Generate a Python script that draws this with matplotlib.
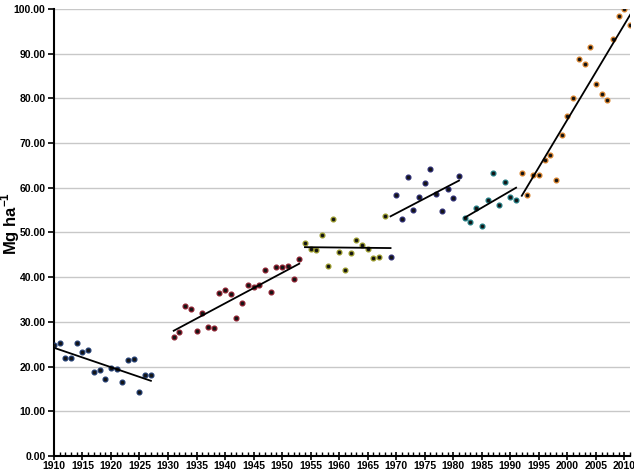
import numpy as np
import matplotlib.pyplot as plt
from matplotlib.ticker import MultipleLocator, FormatStrFormatter

plt.rcParams['font.family'] = 'Liberation Sans'
plt.rcParams['mathtext.fontset'] = 'custom'
plt.rcParams['mathtext.rm'] = 'Liberation Sans:bold'
plt.rcParams['mathtext.bf'] = 'Liberation Sans:bold'

# yields per period (Mg/ha)
years_1 = np.arange(1910, 1928)
vals_1 = [24.8, 25.3, 22.0, 21.8, 25.3, 23.2, 23.7, 18.7, 19.3, 17.1,
          19.7, 19.5, 16.6, 21.4, 21.7, 14.4, 18.0, 18.1]

years_2 = np.arange(1931, 1954)
vals_2 = [26.7, 27.8, 33.6, 32.9, 28.0, 31.9, 28.9, 28.7, 36.4, 37.2,
          36.2, 30.9, 34.1, 38.3, 37.7, 38.3, 41.7, 36.7, 42.2, 42.2,
          42.5, 39.6, 44.1]

years_3 = np.arange(1954, 1969)
vals_3 = [47.6, 46.4, 46.0, 49.5, 42.5, 53.0, 45.6, 41.7, 45.3, 48.2,
          47.1, 46.3, 44.3, 44.4, 53.7]

years_4 = np.arange(1969, 1982)
vals_4 = [44.4, 58.4, 52.9, 62.3, 55.0, 57.9, 61.1, 64.1, 58.5, 54.8,
          59.7, 57.6, 62.6]

years_5 = np.arange(1982, 1992)
vals_5 = [53.3, 52.3, 55.4, 51.5, 57.2, 63.2, 56.1, 61.2, 57.9, 57.3]

years_6 = np.arange(1992, 2012)
vals_6 = [63.2, 58.3, 62.9, 62.9, 66.1, 67.3, 61.7, 71.7, 76.1, 80.0,
          88.7, 87.6, 91.5, 83.2, 80.9, 79.6, 93.2, 98.4, 100.0, 96.4]

# trend lines: (start year, end year, start value, end value)
trend_x = [(1910, 1927), (1931, 1953), (1954, 1969), (1969, 1981), (1982, 1991), (1992, 2011)]
trend_y = [(24.2, 16.8), (28.0, 43.0), (46.7, 46.5), (53.6, 61.6), (53.3, 60.0), (58.2, 98.7)]

groups = [(years_1, vals_1, '#1f3a6e'),
          (years_2, vals_2, '#8b1e2e'),
          (years_3, vals_3, '#9a9a2a'),
          (years_4, vals_4, '#2a2a70'),
          (years_5, vals_5, '#1f7a80'),
          (years_6, vals_6, '#d9822b')]

fig = plt.figure(figsize=(6.34, 4.70), dpi=100)
ax = fig.add_axes([0.085, 0.03, 0.909, 0.951])

for yrs, vals, col in groups:
    ax.scatter(yrs, vals, s=12, facecolor='#141414', edgecolor=col, linewidth=0.9, zorder=3)

for (x0, x1), (y0, y1) in zip(trend_x, trend_y):
    ax.plot([x0, x1], [y0, y1], color='black', lw=1.3, zorder=4)

ax.set_xlim(1910, 2011)
ax.set_ylim(0, 100)
ax.xaxis.set_major_locator(MultipleLocator(5))
ax.xaxis.set_minor_locator(MultipleLocator(1))
ax.yaxis.set_major_locator(MultipleLocator(10))
ax.yaxis.set_major_formatter(FormatStrFormatter('%.2f'))

ax.grid(axis='y', color='#c8c8c8', lw=1.0)
ax.set_axisbelow(True)
for s in ['top', 'right']:
    ax.spines[s].set_visible(False)
for s in ['left', 'bottom']:
    ax.spines[s].set_linewidth(1.5)

ax.tick_params(axis='x', which='major', direction='inout', length=6, width=1.2,
               labelsize=7.5, pad=1)
ax.tick_params(axis='x', which='minor', direction='in', length=3, width=1)
ax.tick_params(axis='y', which='major', direction='out', length=4, width=1.2,
               labelsize=7.5, pad=2)
for lbl in ax.get_xticklabels() + ax.get_yticklabels():
    lbl.set_fontweight('bold')

ax.set_ylabel(r'Mg ha$^{\mathbf{-1}}$', fontsize=12, fontweight='bold')
ax.yaxis.set_label_coords(-0.056, 0.52)

fig.savefig('out.png', dpi=100)
